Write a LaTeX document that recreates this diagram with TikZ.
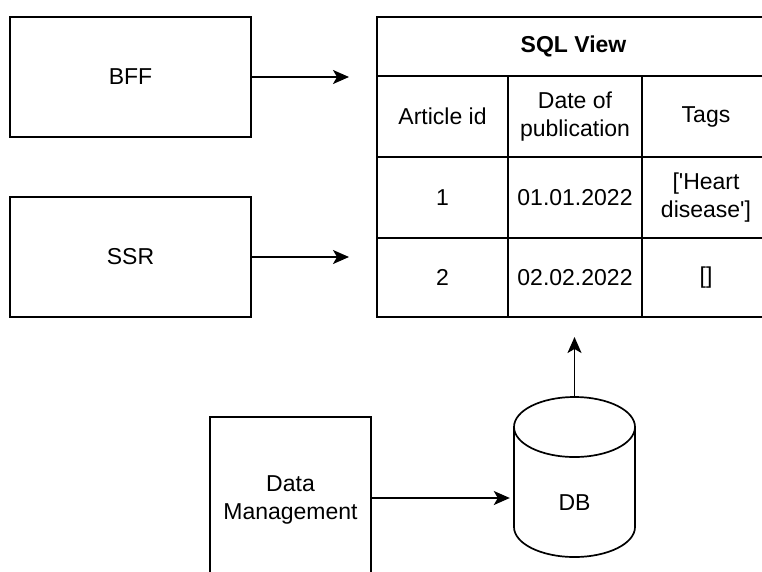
\documentclass[tikz,border=0pt]{standalone}
\usepackage{fontspec}
\setmainfont{Liberation Sans}
\usetikzlibrary{arrows.meta}
\tikzset{
  every node/.style={font=\fontsize{23}{27.5}\selectfont, align=center, inner sep=0pt},
  box/.style={draw, line width=1.7pt, fill=white, rectangle},
  cell/.style={draw, line width=1.7pt, rectangle},
  flow/.style={line width=1.7pt, -{Stealth[length=16pt,width=14pt,inset=4pt]}},
}
\begin{document}
\begin{tikzpicture}[x=1pt,y=-1pt]
  \clip (0,0) rectangle (762,571);
  \fill[white] (0,0) rectangle (762,571);

  % client boxes
  \node[box, minimum width=241pt, minimum height=120pt] (bff) at (130.5,77) {BFF};
  \node[box, minimum width=241pt, minimum height=120pt] (ssr) at (130.5,257) {SSR};
  \node[box, minimum width=161pt, minimum height=166pt] (dm) at (290.5,500) {Data\\Management};

  % SQL view table
  \node[cell, minimum width=393pt, minimum height=59pt, font=\fontsize{23}{27.5}\selectfont\bfseries] (title) at (573.5,46.5) {SQL View};
  \node[cell, minimum width=131pt, minimum height=81pt] (h1) at (442.5,116.5) {Article id};
  \node[cell, minimum width=134pt, minimum height=81pt] (h2) at (575,116.5) {Date of\\publication};
  \node[cell, minimum width=128pt, minimum height=81pt] (h3) at (706,116.5) {Tags};
  \node[cell, minimum width=131pt, minimum height=81pt] (a1) at (442.5,197.5) {1};
  \node[cell, minimum width=134pt, minimum height=81pt] (a2) at (575,197.5) {01.01.2022};
  \node[cell, minimum width=128pt, minimum height=81pt] (a3) at (706,197.5) {[\textquotesingle Heart\\disease\textquotesingle]};
  \node[cell, minimum width=131pt, minimum height=79pt] (b1) at (442.5,277.5) {2};
  \node[cell, minimum width=134pt, minimum height=79pt] (b2) at (575,277.5) {02.02.2022};
  \node[cell, minimum width=128pt, minimum height=79pt] (b3) at (706,277.5) {[]};

  % database cylinder
  \filldraw[fill=white, line width=1.7pt]
    (514,427) -- (514,527) arc[start angle=180, end angle=360, x radius=60.5pt, y radius=30pt] -- (635,427);
  \draw[line width=1.7pt] (574.5,427) ellipse[x radius=60.5pt, y radius=30pt];
  \node[minimum width=121pt, minimum height=160pt] (db) at (574.5,477) {};
  \node (dblabel) at (574.5,503) {DB};

  % connector ends
  \coordinate (bffend) at (349,77);
  \coordinate (ssrend) at (349,257);
  \coordinate (viewin) at (574.5,337);

  % connectors
  \draw[flow] (bff.east) -- (bffend);
  \draw[flow] (ssr.east) -- (ssrend);
  \draw[flow, shorten >=4pt] (dm.east |- 0,498) -- (db.west |- 0,498);
  \draw[flow] (db.north) -- (viewin);
\end{tikzpicture}
\end{document}
